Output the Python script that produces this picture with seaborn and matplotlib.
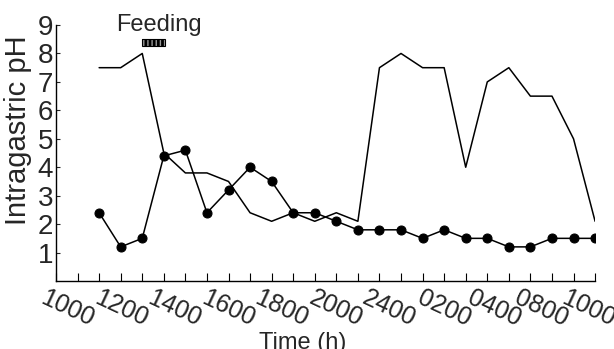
import matplotlib
matplotlib.use('Agg')
import matplotlib.pyplot as plt
import seaborn as sns
import pandas as pd
from matplotlib.patches import Rectangle

# Sampling slots along the time axis (one slot per tick)
slot = [2, 3, 4, 5, 6, 7, 8, 9, 10, 11, 12, 13, 14, 15, 16, 17, 18, 19, 20, 21, 22, 23, 24, 25]

# Intragastric pH, two series
ph_circles = [2.4, 1.2, 1.5, 4.4, 4.6, 2.4, 3.2, 4.0, 3.5, 2.4, 2.4, 2.1,
              1.8, 1.8, 1.8, 1.5, 1.8, 1.5, 1.5, 1.2, 1.2, 1.5, 1.5, 1.5]
ph_plain = [7.5, 7.5, 8.0, 4.5, 3.8, 3.8, 3.5, 2.4, 2.1, 2.4, 2.1, 2.4,
            2.1, 7.5, 8.0, 7.5, 7.5, 4.0, 7.0, 7.5, 6.5, 6.5, 5.0, 2.1]

# Time axis labels and where they sit
time_labels = ['1000', '1200', '1400', '1600', '1800', '2000', '2400',
               '0200', '0400', '0800', '1000']
label_pos = [-0.42, 2.1, 4.55, 7.05, 9.52, 12.07, 14.52, 17.07, 19.39, 21.57, 23.75]

# Feeding period (in slots, drawn as a bar near the top)
feeding_start = 4.0
feeding_end = 5.05

df = pd.DataFrame({'slot': slot, 'circles': ph_circles, 'plain': ph_plain})

sns.set_style('ticks')
plt.rcParams['font.family'] = ['Liberation Sans', 'DejaVu Sans']

fig = plt.figure(figsize=(6.14, 3.49), dpi=100)
ax = fig.add_axes([0.0912, 0.1948, 0.878, 0.7335])

sns.lineplot(data=df, x='slot', y='plain', color='black', linewidth=1.1, ax=ax)
sns.lineplot(data=df, x='slot', y='circles', color='black', linewidth=1.1,
             marker='o', markersize=6.5, markeredgecolor='black', ax=ax)

sns.despine(ax=ax)
for s in ['left', 'bottom']:
    ax.spines[s].set_linewidth(1.0)
    ax.spines[s].set_color('black')

# x axis: tick marks every slot, the time labels are slanted text below
ax.set_xticks(range(0, 26))
ax.set_xticklabels([])
ax.tick_params(axis='x', direction='in', length=6, width=0.8, color='black')
for pos, lbl in zip(label_pos, time_labels):
    ax.text(pos, -0.02, lbl, transform=ax.get_xaxis_transform(), rotation=-25,
            rotation_mode='anchor', ha='left', va='top', fontsize=18, clip_on=False)

ax.set_yticks(range(1, 10))
ax.tick_params(axis='y', direction='in', length=3, width=0.8, pad=2, labelsize=20)

ax.set_xlim(0, 25)
ax.set_ylim(0, 9)

ax.set_xlabel('Time (h)', fontsize=17)
ax.xaxis.set_label_coords(0.458, -0.2)
ax.xaxis.label.set_va('top')
ax.set_ylabel('Intragastric pH', fontsize=21)
ax.yaxis.set_label_coords(-0.045, 0.59)

ax.add_patch(Rectangle((feeding_start, 8.25), feeding_end - feeding_start, 0.27,
                       facecolor='black', edgecolor='#9a9a9a', hatch='||||', linewidth=0,
                       clip_on=False))
ax.add_patch(Rectangle((feeding_start, 8.25), feeding_end - feeding_start, 0.27,
                       facecolor='none', edgecolor='black', linewidth=0.8, clip_on=False))
ax.text((feeding_start + feeding_end) / 2 + 0.25, 8.8, 'Feeding', ha='center',
        va='baseline', fontsize=17)

fig.savefig('out.png', dpi=100)
